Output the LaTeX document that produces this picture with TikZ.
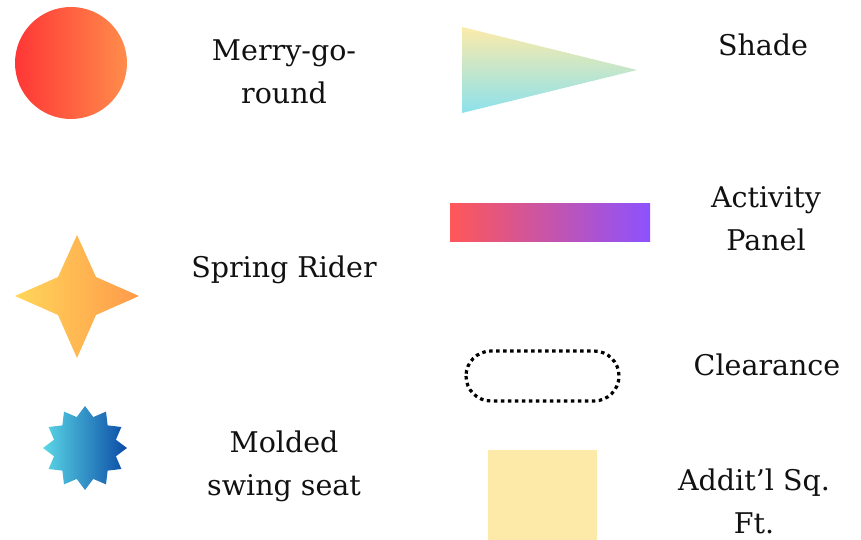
\documentclass[tikz,border=0pt]{standalone}
\usepackage{fontspec}
\setmainfont{DejaVu Serif}
\definecolor{mgrL}{HTML}{FF3636}
\definecolor{mgrR}{HTML}{FF8C4B}
\definecolor{srL}{HTML}{FFD65A}
\definecolor{srR}{HTML}{FF9A4A}
\definecolor{msL}{HTML}{5AD7E6}
\definecolor{msR}{HTML}{0B4BA5}
\definecolor{shT}{HTML}{FCEBAA}
\definecolor{shB}{HTML}{8CE1EC}
\definecolor{apL}{HTML}{FF5757}
\definecolor{apR}{HTML}{8C52FF}
\definecolor{sqF}{HTML}{FDEAA8}
\definecolor{txt}{HTML}{111111}
\begin{document}
\begin{tikzpicture}[x=1pt,y=-1pt,
  lbl/.style={font=\fontsize{28.5}{43}\selectfont, align=center, text=txt, inner sep=0pt},
  clearbox/.style={line width=3.2pt, dash pattern=on 3.5pt off 3.5pt, rounded corners=25pt, draw=black}]
\useasboundingbox (0,0) rectangle (861,540);
% Merry-go-round
\shade[left color=mgrL, right color=mgrR] (71,63) circle (56);
\node[lbl] (mgr) at (284,72) {Merry-go-\\round};
% Spring Rider
\shade[left color=srL, right color=srR]
  (15,296) -- (58,277) -- (77,235) -- (96,277) -- (139,296) -- (96,315) -- (77,358) -- (58,315) -- cycle;
\node[lbl] (sr) at (284,270) {Spring Rider};
% Molded swing seat
\begin{scope}[shift={(85,448)}]
\shade[left color=msL, right color=msR]
  (0:42) \foreach \a in {0,30,...,330} { -- (\a:42) -- (\a+15:32) } -- cycle;
\end{scope}
\node[lbl] (ms) at (284,466) {Molded\\swing seat};
% Shade
\shade[top color=shT, bottom color=shB] (462,27) -- (637,70) -- (462,113) -- cycle;
\node[lbl] (sh) at (763,45) {Shade};
% Activity Panel
\shade[left color=apL, right color=apR] (450,203) rectangle (650,241);
\node[lbl] (ap) at (766,219) {Activity\\Panel};
% Clearance
\draw[clearbox] (466,351) rectangle (619,401);
\node[lbl] (cl) at (767,365) {Clearance};
% Addit'l Sq. Ft.
\fill[sqF] (488,450) rectangle (597,540);
\node[lbl] (sq) at (754,501) {Addit’l Sq.\\Ft.};
\end{tikzpicture}
\end{document}
